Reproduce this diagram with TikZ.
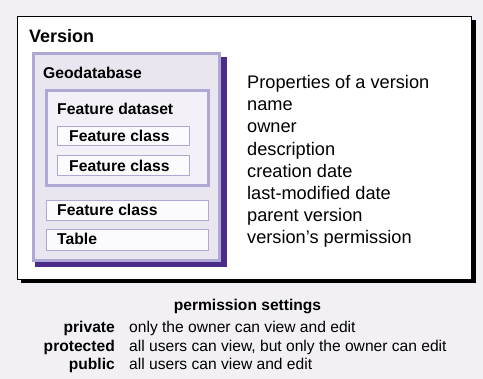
\documentclass[tikz,border=0pt]{standalone}
\usepackage{fontspec}
\setmainfont{Liberation Sans}
\definecolor{bggray}{HTML}{F2F0F4}
\definecolor{lavline}{HTML}{B0A8D4}
\definecolor{gdbfill}{HTML}{E9E6F0}
\definecolor{fdsfill}{HTML}{F3F1F7}
\definecolor{fcfill}{HTML}{FBFAFD}
\definecolor{gdbshadow}{HTML}{4B2C8A}

\begin{document}
\begin{tikzpicture}[x=1pt, y=-1pt,
		boxlbl/.style={anchor=base west, inner sep=0pt, font=\fontsize{15.7}{18}\selectfont\bfseries},
		proplbl/.style={anchor=base west, inner sep=0pt, font=\fontsize{18.2}{22}\selectfont},
		permkey/.style={anchor=base east, inner sep=0pt, font=\fontsize{15.6}{18}\selectfont\bfseries},
		permtxt/.style={anchor=base west, inner sep=0pt, font=\fontsize{15.6}{18}\selectfont}]
		\fill[bggray] (0,0) rectangle (483,379);
		\useasboundingbox (0,0) rectangle (483,379);
		% version box
		\fill[black] (21,20) rectangle (476,283.5);
		\draw[line width=1.2pt, fill=white] (17.6,16.6) rectangle (471.8,279.6);
		\node[anchor=base west, inner sep=0pt, font=\fontsize{18}{22}\selectfont\bfseries] (version) at (29,43) {Version};
		% geodatabase
		\fill[gdbshadow] (35,57) rectangle (227,267);
		\draw[lavline, line width=3pt, fill=gdbfill] (33,54) rectangle (219.5,260.5);
		\node[boxlbl] (gdb) at (43,79) {Geodatabase};
		% feature dataset
		\draw[lavline, line width=3pt, fill=fdsfill] (46.5,90.5) rectangle (208.5,185.5);
		\node[boxlbl] (fds) at (57,115) {Feature dataset};
		\draw[lavline, line width=1.2pt, fill=fcfill] (57.6,126.6) rectangle (189.6,145.8);
		\node[boxlbl] (fca) at (69,141.7) {Feature class};
		\draw[lavline, line width=1.2pt, fill=fcfill] (57.6,155.6) rectangle (189.6,175.8);
		\node[boxlbl] (fcb) at (69,171.7) {Feature class};
		\draw[lavline, line width=1.2pt, fill=fcfill] (46.6,200.6) rectangle (208.6,220.2);
		\node[boxlbl] (fcc) at (57,215.5) {Feature class};
		\draw[lavline, line width=1.2pt, fill=fcfill] (46.6,229.6) rectangle (208.6,250.6);
		\node[boxlbl] (tbl) at (57,245) {Table};
		% properties
		\foreach \txt [count=\i] in {Properties of a version, name, owner, description,
			creation date, last-modified date, parent version, version’s permission}
			\node[proplbl] (prop\i) at (247,{88.5+22.2*(\i-1)}) {\txt};
		% permissions
		\node[anchor=base, inner sep=0pt, font=\fontsize{15.6}{18}\selectfont\bfseries] (perm) at (247.5,310.5) {permission settings};
		\node[permkey] (kpriv) at (115,333) {private};
		\node[permtxt] (tpriv) at (129,333) {only the owner can view and edit};
		\node[permkey] (kprot) at (115,351.3) {protected};
		\node[permtxt] (tprot) at (129,351.3) {all users can view, but only the owner can edit};
		\node[permkey] (kpub) at (115,369.5) {public};
		\node[permtxt] (tpub) at (129,369.5) {all users can view and edit};
	\end{tikzpicture}
\end{document}
